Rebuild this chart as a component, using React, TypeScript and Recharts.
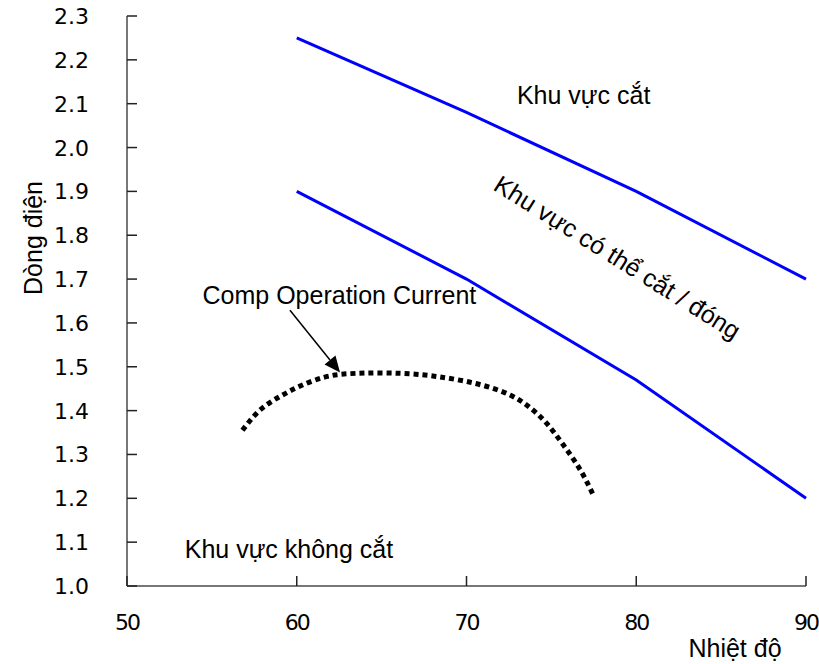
import React from 'react';
import {
  LineChart,
  Line,
  XAxis,
  YAxis,
  ReferenceDot,
  ReferenceLine,
} from 'recharts';

// x ticks (Nhiệt độ) and y ticks (Dòng điện)
const xTicks = [50, 60, 70, 80, 90];
const yTicks = [1.0, 1.1, 1.2, 1.3, 1.4, 1.5, 1.6, 1.7, 1.8, 1.9, 2.0, 2.1, 2.2, 2.3];

// upper blue boundary
const upperLine = [
  { x: 60, y: 2.25 },
  { x: 70, y: 2.08 },
  { x: 80, y: 1.9 },
  { x: 90, y: 1.7 },
];

// lower blue boundary
const lowerLine = [
  { x: 60, y: 1.9 },
  { x: 70, y: 1.7 },
  { x: 80, y: 1.47 },
  { x: 90, y: 1.2 },
];

// comp operation current (dotted)
const compCurrent = [
  { x: 56.8, y: 1.355 },
  { x: 57.8, y: 1.4 },
  { x: 59.0, y: 1.432 },
  { x: 60.2, y: 1.456 },
  { x: 61.6, y: 1.476 },
  { x: 63.0, y: 1.484 },
  { x: 65.0, y: 1.486 },
  { x: 67.0, y: 1.483 },
  { x: 68.4, y: 1.477 },
  { x: 69.8, y: 1.468 },
  { x: 71.2, y: 1.455 },
  { x: 72.6, y: 1.435 },
  { x: 73.7, y: 1.408 },
  { x: 74.7, y: 1.372 },
  { x: 75.7, y: 1.322 },
  { x: 76.7, y: 1.265 },
  { x: 77.5, y: 1.205 },
];

const textFont = '"Liberation Sans", Arial, sans-serif';
const tickFont = '"DejaVu Sans", sans-serif';

const YTick = (props: any) => {
  const { x, y, payload } = props;
  return (
    <g>
      <line x1={x} y1={y} x2={x + 10} y2={y} stroke="#222" strokeWidth={1.5} />
      <text x={x - 38} y={y + 8} textAnchor="end" fontFamily={tickFont} fontSize={22} fill="#000">
        {Number(payload.value).toFixed(1)}
      </text>
    </g>
  );
};

const XTick = (props: any) => {
  const { x, y, payload } = props;
  return (
    <g>
      <line x1={x} y1={y} x2={x} y2={y - 10} stroke="#222" strokeWidth={1.5} />
      <text x={x} y={y + 44} textAnchor="middle" fontFamily={tickFont} fontSize={22} fill="#000" letterSpacing={-2}>
        {payload.value}
      </text>
    </g>
  );
};

const note = (text: string, anchor: string, rotate = 0) => (props: any) => {
  const { x, y } = props.viewBox;
  return (
    <text
      x={x}
      y={y}
      textAnchor={anchor}
      dominantBaseline="central"
      fontFamily={textFont}
      fontSize={25}
      fill="#000"
      transform={rotate ? `rotate(${rotate}, ${x}, ${y})` : undefined}
    >
      {text}
    </text>
  );
};

const Arrow = (props: any) => {
  const { x1, y1, x2, y2 } = props;
  const a = Math.atan2(y2 - y1, x2 - x1);
  const len = 16;
  const w = 7;
  const bx = x2 - len * Math.cos(a);
  const by = y2 - len * Math.sin(a);
  const px = -Math.sin(a) * w;
  const py = Math.cos(a) * w;
  return (
    <g>
      <line x1={x1} y1={y1} x2={bx} y2={by} stroke="#000" strokeWidth={1.5} />
      <polygon points={`${x2},${y2} ${bx + px},${by + py} ${bx - px},${by - py}`} fill="#000" />
    </g>
  );
};

export default function App() {
  return (
    <div style={{ position: 'absolute', left: 0, top: 0 }}>
      <LineChart width={819} height={664} margin={{ top: 16, right: 13, bottom: 0, left: 0 }}>
        <XAxis
          dataKey="x"
          type="number"
          domain={[50, 90]}
          ticks={xTicks}
          height={78}
          axisLine={{ stroke: '#777', strokeWidth: 2 }}
          tickLine={false}
          tickSize={0}
          tickMargin={0}
          tick={<XTick />}
          allowDuplicatedCategory={false}
          label={(p: any) => {
            const vb = p.viewBox;
            return (
              <text x={vb.x + vb.width - 71} y={657} textAnchor="middle" fontFamily={textFont} fontSize={25} fill="#000">
                Nhiệt độ
              </text>
            );
          }}
        />
        <YAxis
          dataKey="y"
          type="number"
          domain={[1.0, 2.3]}
          ticks={yTicks}
          width={127}
          axisLine={{ stroke: '#777', strokeWidth: 2 }}
          tickLine={false}
          tickSize={0}
          tickMargin={0}
          tick={<YTick />}
          label={() => {
            const cx = 33;
            const cy = 238;
            return (
              <text x={cx} y={cy} textAnchor="middle" dominantBaseline="central" fontFamily={textFont} fontSize={25} fill="#000" transform={`rotate(-90, ${cx}, ${cy})`}>
                Dòng điện
              </text>
            );
          }}
        />
        <Line data={upperLine} dataKey="y" type="linear" stroke="#0000FF" strokeWidth={3} dot={false} isAnimationActive={false} />
        <Line data={lowerLine} dataKey="y" type="linear" stroke="#0000FF" strokeWidth={3} dot={false} isAnimationActive={false} />
        <Line
          data={compCurrent}
          dataKey="y"
          type="natural"
          stroke="#000"
          strokeWidth={5}
          strokeDasharray="5 4"
          dot={false}
          isAnimationActive={false}
        />
        <ReferenceLine
          segment={[{ x: 59.6, y: 1.629 }, { x: 62.55, y: 1.487 }]}
          ifOverflow="visible"
          shape={<Arrow />}
        />
        <ReferenceDot x={76.9} y={2.12} r={0} stroke="none" fill="none" ifOverflow="visible" label={note('Khu vực cắt', 'middle')} />
        <ReferenceDot x={78.9} y={1.75} r={0} stroke="none" fill="none" ifOverflow="visible" label={note('Khu vực có thể cắt / đóng', 'middle', 32)} />
        <ReferenceDot x={54.45} y={1.663} r={0} stroke="none" fill="none" ifOverflow="visible" label={note('Comp Operation Current', 'start')} />
        <ReferenceDot x={53.4} y={1.085} r={0} stroke="none" fill="none" ifOverflow="visible" label={note('Khu vực không cắt', 'start')} />
      </LineChart>
    </div>
  );
}
